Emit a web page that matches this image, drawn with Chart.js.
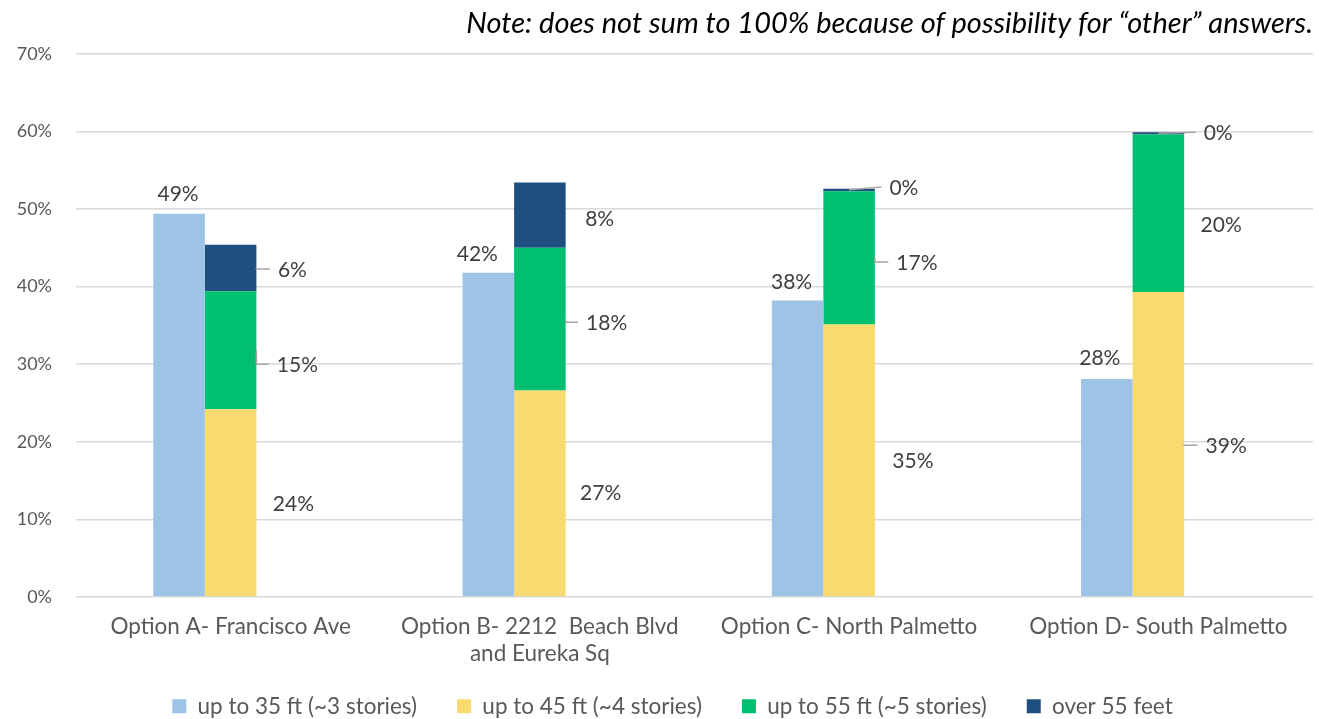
<!DOCTYPE html>
<html>
<head>
<meta charset="utf-8">
<title>Preferred building height by option</title>
<script src="https://cdn.jsdelivr.net/npm/chart.js@4.4.1/dist/chart.umd.min.js"></script>
<style>
  html, body { margin: 0; padding: 0; background: #fff; }
  #wrap { width: 1319px; height: 719px; position: relative; }
</style>
</head>
<body>
<div id="wrap"><canvas id="heightChart"></canvas></div>
<script>
  // Survey results, percent of respondents
  const categories = [
    'Option A- Francisco Ave',
    ['Option B- 2212  Beach Blvd', 'and Eureka Sq'],
    'Option C- North Palmetto',
    'Option D- South Palmetto'
  ];
  const seriesNames = [
    'up to 35 ft (~3 stories)',
    'up to 45 ft (~4 stories)',
    'up to 55 ft (~5 stories)',
    'over 55 feet'
  ];
  const upTo35 = [49.4, 41.8, 38.2, 28.1];
  const upTo45 = [24.2, 26.6, 35.1, 39.3];
  const upTo55 = [15.2, 18.4, 17.2, 20.3];
  const over55 = [6.0, 8.4, 0.3, 0.3];
  const emptySlot = [0, 0, 0, 0];
  const yTickValues = [0, 10, 20, 30, 40, 50, 60, 70];

  const FONT = "'Lato', 'DejaVu Sans', sans-serif";
  const colors = ['#9DC3E6', '#F9DA6F', '#00BF6F', '#1F4E80'];

  // where each data label sits, relative to its bar segment
  const labelPlacement = [
    { from: 'top',   dx: [-1, -11, -6, -7], dy: [-19, -18, -18, -21], leader: [null, null, null, null] },
    { from: 'right', dx: [37, 35, 38, 42],  dy: [2, 0, 1, 2],         leader: [null, null, null, 'elbow'] },
    { from: 'right', dx: [41, 41, 42, 37],  dy: [15, 4, 5, 12],       leader: ['elbow', 'elbow', 'elbow', null] },
    { from: 'right', dx: [36, 34, 29, 34],  dy: [2, 4, -2, 0],        leader: ['elbow', null, 'top', 'top'] }
  ];

  const barLabels = {
    id: 'barLabels',
    afterDatasetsDraw(chart) {
      const ctx = chart.ctx;
      ctx.save();
      ctx.font = '21px ' + FONT;
      ctx.fillStyle = '#404040';
      ctx.textAlign = 'center';
      ctx.textBaseline = 'middle';
      ctx.strokeStyle = '#A6A6A6';
      ctx.lineWidth = 1.5;

      labelPlacement.forEach(function(place, di) {
        const meta = chart.getDatasetMeta(di);
        const values = chart.data.datasets[di].data;
        meta.data.forEach(function(bar, i) {
          const text = Math.round(values[i]) + '%';
          const right = bar.x + bar.width / 2;
          const mid = (bar.y + bar.base) / 2;
          let x, y;
          if (place.from === 'top') {
            x = bar.x + place.dx[i];
            y = bar.y + place.dy[i];
          } else {
            x = right + place.dx[i];
            y = mid + place.dy[i];
          }
          const left = x - ctx.measureText(text).width / 2;
          const kind = place.leader[i];
          if (kind === 'elbow') {
            ctx.beginPath();
            ctx.moveTo(right, mid);
            ctx.lineTo(right, y - 1);
            ctx.lineTo(left - 8, y - 1);
            ctx.stroke();
          } else if (kind === 'top') {
            ctx.beginPath();
            ctx.moveTo(bar.x, bar.y + 1);
            ctx.lineTo(left - 8, y - 1);
            ctx.stroke();
          }
          ctx.fillText(text, x, y);
        });
      });
      ctx.restore();
    }
  };

  // legend padding also pads it vertically; pull it up so the
  // wide item spacing doesn't squeeze the two-line axis labels
  const legendLift = {
    id: 'legendLift',
    afterLayout(chart) {
      const lg = chart.legend;
      lg.top -= 12;
      lg.bottom -= 12;
      lg.left += 16;
      lg.right += 16;
    }
  };

  const ctx = document.getElementById('heightChart').getContext('2d');
  const heightChart = new Chart(ctx, {
    type: 'bar',
    data: {
      labels: categories,
      datasets: [
        { label: seriesNames[0], data: upTo35, backgroundColor: colors[0], stack: 'low' },
        { label: seriesNames[1], data: upTo45, backgroundColor: colors[1], stack: 'tall' },
        { label: seriesNames[2], data: upTo55, backgroundColor: colors[2], stack: 'tall' },
        { label: seriesNames[3], data: over55, backgroundColor: colors[3], stack: 'tall' },
        // keeps a third slot free so the pair sits left of centre
        { label: '', data: emptySlot, backgroundColor: 'rgba(0,0,0,0)', stack: 'gap' }
      ]
    },
    options: {
      responsive: true,
      maintainAspectRatio: false,
      animation: false,
      categoryPercentage: 0.5,
      barPercentage: 1,
      layout: { padding: { left: 0, right: 6, top: 0, bottom: -20.5 } },
      scales: {
        x: {
          stacked: true,
          afterFit: function(scale) { scale.height = 70; },
          grid: { display: false, drawTicks: false },
          border: { display: false },
          ticks: {
            color: '#595959',
            font: { family: FONT, size: 22.5 },
            padding: 16,
            maxRotation: 0,
            autoSkip: false
          }
        },
        y: {
          stacked: true,
          min: 0,
          max: 70,
          afterFit: function(scale) { scale.width = 76; },
          afterBuildTicks: function(scale) {
            scale.ticks = yTickValues.map(function(v) { return { value: v }; });
          },
          grid: { color: '#D9D9D9', lineWidth: 1.5, drawTicks: false },
          border: { display: false },
          ticks: {
            color: '#595959',
            font: { family: FONT, size: 18 },
            padding: 24,
            callback: function(v) { return v + '%'; }
          }
        }
      },
      plugins: {
        title: {
          display: true,
          align: 'end',
          text: 'Note: does not sum to 100% because of possibility for \u201Cother\u201D answers.',
          color: '#000',
          font: { family: FONT, size: 29, style: 'italic', weight: 'normal' },
          padding: { top: 6, bottom: 13 }
        },
        legend: {
          position: 'bottom',
          labels: {
            color: '#595959',
            font: { family: FONT, size: 22.5 },
            boxWidth: 14,
            boxHeight: 14,
            padding: 40,
            filter: function(item) { return item.text !== ''; }
          }
        },
        tooltip: { enabled: false }
      }
    },
    plugins: [barLabels, legendLift]
  });
</script>
</body>
</html>
